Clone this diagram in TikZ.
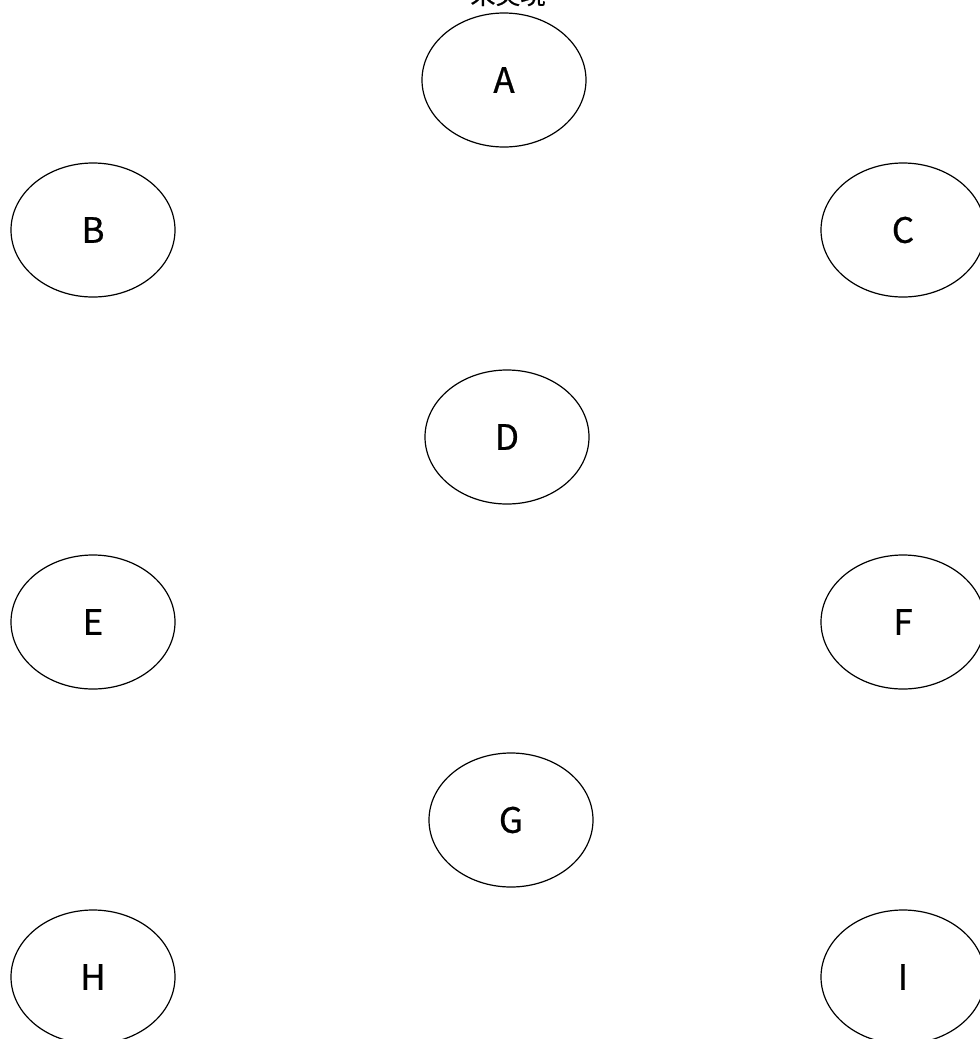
\documentclass[tikz,border=0pt]{standalone}
\usepackage{fontspec}
\setmainfont{Noto Sans CJK JP}
\newfontfamily\lblfont[FakeBold=0.6]{Noto Sans CJK JP}
\usetikzlibrary{shapes.geometric}
\tikzset{
  oval/.style={draw, ellipse, line width=1.2pt, minimum width=164pt, minimum height=134pt, inner sep=0pt, font=\lblfont\fontsize{35}{38}\selectfont},
  ttl/.style={inner sep=0pt, font=\lblfont\fontsize{25}{28}\selectfont}
}
\begin{document}
\begin{tikzpicture}[x=1pt,y=-1pt]
\path[use as bounding box, clip] (0,0) rectangle (980,1039);
\fill[white] (0,0) rectangle (980,1039);
\node[ttl, anchor=base] (title) at (508,4) {未実現};
\node[oval] (A) at (504,80) {A};
\node[oval] (B) at (93,230) {B};
\node[oval] (C) at (903,230) {C};
\node[oval] (D) at (507,437) {D};
\node[oval] (E) at (93,622) {E};
\node[oval] (F) at (903,622) {F};
\node[oval] (G) at (511,820) {G};
\node[oval] (H) at (93,977) {H};
\node[oval] (I) at (903,977) {I};
\end{tikzpicture}
\end{document}
